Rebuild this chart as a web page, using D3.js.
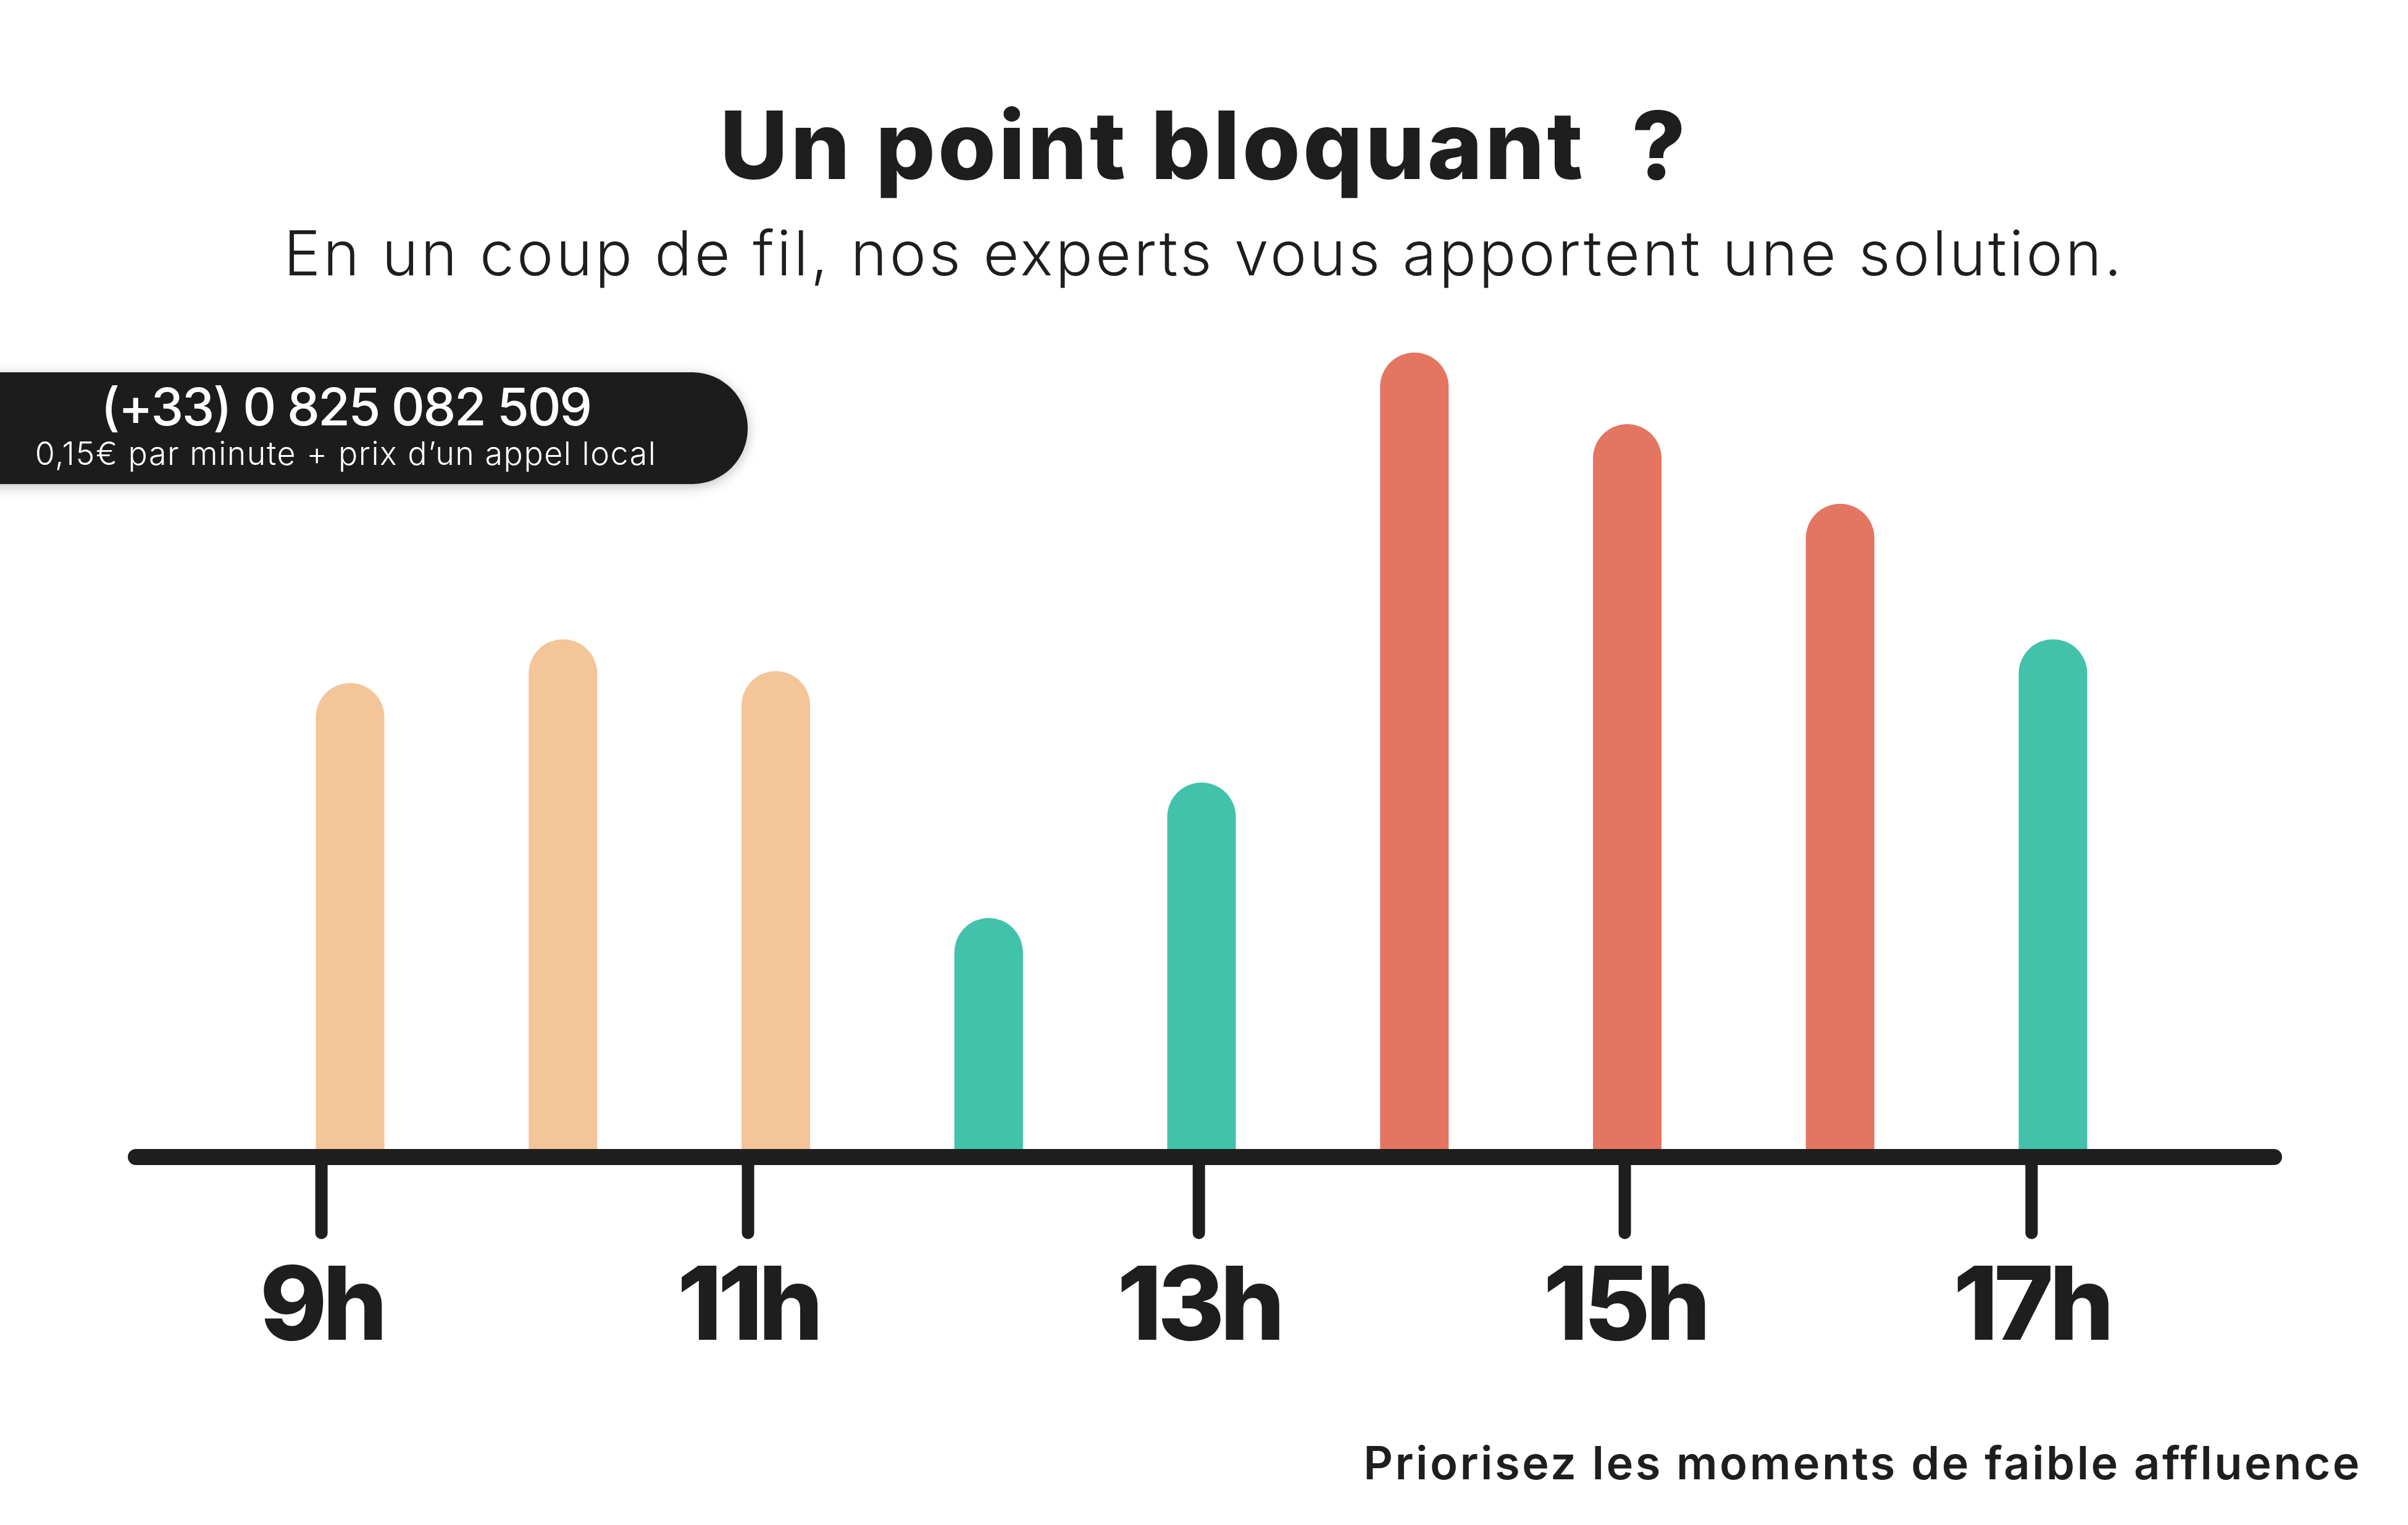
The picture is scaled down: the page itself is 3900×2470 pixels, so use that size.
<!DOCTYPE html>
<html>
<head>
<meta charset="utf-8">
<script src="https://cdn.jsdelivr.net/npm/d3@7"></script>
<style>
  html, body { margin: 0; padding: 0; background: #ffffff; }
  svg { display: block; }
  text { font-family: Inter, "Open Sans", sans-serif; }
</style>
</head>
<body>
<script>
// ---------- DATA ----------
const hours = [9, 10, 11, 12, 13, 14, 15, 16, 17];
const affluence = [58.5, 64, 60, 29, 46, 100, 91, 81, 64];
const levels = ["moyen", "moyen", "moyen", "faible", "faible", "fort", "fort", "fort", "faible"];
const tickHours = [8.864, 10.868, 12.986, 14.987, 16.898];
const tickLabels = ["9h", "11h", "13h", "15h", "17h"];
const levelNames = ["faible", "moyen", "fort"];
const levelColors = ["#42C2AA", "#F4C598", "#E37561"];

const titleText = "Un point bloquant\u00A0 ?";
const subtitleText = "En un coup de fil, nos experts vous apportent une solution.";
const phoneText = "(+33) 0 825 082 509";
const priceText = "0,15\u20AC par minute + prix d\u2019un appel local";
const footText = "Priorisez les moments de faible affluence";

// ---------- LAYOUT ----------
const W = 3900, H = 2470;
const baseY = 1861;      // top of the axis bar
const axisY = 1874;      // centre of the axis bar
const barW = 111;
const dark = "#1E1E1E";

const svg = d3.select("body").append("svg")
  .attr("width", W).attr("height", H)
  .attr("viewBox", `0 0 ${W} ${H}`);

svg.append("rect").attr("width", W).attr("height", H).attr("fill", "#ffffff");

const defs = svg.append("defs");
const f = defs.append("filter").attr("id", "shadow")
  .attr("x", "-10%").attr("y", "-30%").attr("width", "130%").attr("height", "160%");
f.append("feDropShadow").attr("dx", 0).attr("dy", 4).attr("stdDeviation", 10)
  .attr("flood-color", "#000").attr("flood-opacity", 0.25);

const x = d3.scaleLinear().domain([9, 17]).range([567, 3325]);
const y = d3.scaleLinear().domain([0, 100]).range([baseY, 571]);
const color = d3.scaleOrdinal().domain(levelNames).range(levelColors);

// Title & subtitle
svg.append("text")
  .attr("x", 1950).attr("y", 290)
  .attr("text-anchor", "middle")
  .attr("font-size", 152).attr("font-weight", 800)
  .attr("letter-spacing", 4)
  .attr("fill", dark)
  .text(titleText);

svg.append("text")
  .attr("x", 1950).attr("y", 446)
  .attr("text-anchor", "middle")
  .attr("font-size", 100).attr("font-weight", 300)
  .attr("letter-spacing", 4.2)
  .attr("fill", dark)
  .text(subtitleText);

// Phone pill
const pill = svg.append("g");
pill.append("rect")
  .attr("x", -200).attr("y", 603).attr("width", 1411).attr("height", 181)
  .attr("rx", 90).attr("ry", 90)
  .attr("fill", dark)
  .attr("filter", "url(#shadow)");
pill.append("text")
  .attr("x", 560).attr("y", 689)
  .attr("text-anchor", "middle")
  .attr("font-size", 84).attr("font-weight", 500)
  .attr("letter-spacing", -2.5)
  .attr("fill", "#ffffff")
  .text(phoneText);
pill.append("text")
  .attr("x", 560).attr("y", 753)
  .attr("text-anchor", "middle")
  .attr("font-size", 52).attr("font-weight", 300)
  .attr("letter-spacing", 1.5)
  .attr("fill", "#ffffff")
  .text(priceText);

// Bars with rounded tops
const data = hours.map((h, i) => ({ h, v: affluence[i], lvl: levels[i] }));
function barPath(d) {
  const x0 = x(d.h) - barW / 2, x1 = x(d.h) + barW / 2;
  const r = barW / 2;
  const top = y(d.v);
  const bottom = y(0) + 12;
  return `M${x0},${bottom} L${x0},${top + r} A${r},${r} 0 0 1 ${x1},${top + r} L${x1},${bottom} Z`;
}
svg.append("g").selectAll("path")
  .data(data).join("path")
  .attr("d", barPath)
  .attr("fill", d => color(d.lvl));

// Axis
const axis = d3.axisBottom(x)
  .tickValues(tickHours)
  .tickFormat((d, i) => tickLabels[i])
  .tickSize(123)
  .tickPadding(56);

const gAxis = svg.append("g")
  .attr("transform", `translate(0,${axisY})`)
  .call(axis);
gAxis.select(".domain").remove();
gAxis.selectAll(".tick line")
  .attr("stroke", dark).attr("stroke-width", 20).attr("stroke-linecap", "round");
gAxis.selectAll(".tick text")
  .attr("fill", dark)
  .attr("font-size", 165).attr("font-weight", 800)
  .attr("font-family", "Inter, sans-serif")
  .attr("letter-spacing", -7);
gAxis.insert("line", ":first-child")
  .attr("x1", 220).attr("x2", 3683)
  .attr("y1", 0).attr("y2", 0)
  .attr("stroke", dark).attr("stroke-width", 26).attr("stroke-linecap", "round");

// Footnote
svg.append("text")
  .attr("x", 3825).attr("y", 2396)
  .attr("text-anchor", "end")
  .attr("font-size", 74).attr("font-weight", 600)
  .attr("letter-spacing", 3.5)
  .attr("fill", dark)
  .text(footText);
</script>
</body>
</html>
